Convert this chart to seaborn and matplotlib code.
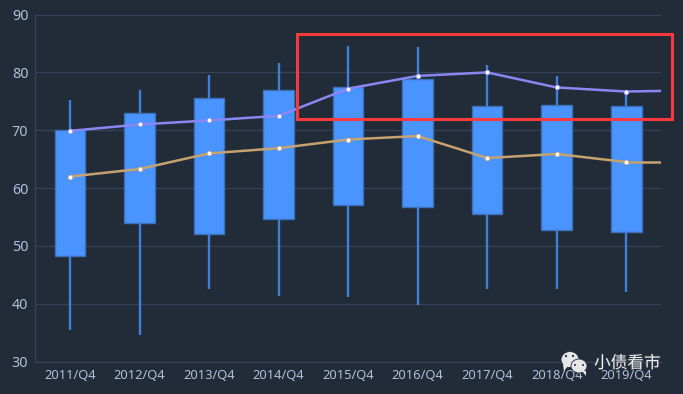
import matplotlib
matplotlib.use("Agg")
import matplotlib.pyplot as plt
import matplotlib.patheffects as pe
from matplotlib.patches import Rectangle, Ellipse, Polygon
import numpy as np
import pandas as pd
import seaborn as sns

quarters = ["2011/Q4", "2012/Q4", "2013/Q4", "2014/Q4", "2015/Q4", "2016/Q4", "2017/Q4", "2018/Q4", "2019/Q4"]
low = [35.5, 34.6, 42.5, 41.4, 41.2, 39.8, 42.5, 42.6, 42.0]
q1 = [48.2, 53.9, 52.1, 54.6, 57.0, 56.8, 55.5, 52.7, 52.4]
q3 = [70.1, 73.0, 75.6, 76.9, 77.4, 78.9, 74.2, 74.3, 74.2]
high = [75.2, 77.0, 79.5, 81.7, 84.6, 84.4, 81.3, 79.3, 76.9]
purple = [69.9, 71.0, 71.7, 72.5, 77.2, 79.4, 80.0, 77.4, 76.7]
tan = [62.0, 63.3, 66.0, 66.9, 68.4, 69.0, 65.2, 65.9, 64.5]
# both lines run on to the right edge of the plot
purple_end = 76.8
tan_end = 64.5
yticks = [30, 40, 50, 60, 70, 80, 90]

BG = "#222c38"
GRID = "#35425a"
TEXT = "#b0c0dc"
W, H = 683, 394

sns.set_style("dark")
plt.rcParams["font.family"] = ["Noto Sans", "Noto Sans CJK SC", "DejaVu Sans"]

# five numbers per year, the box stats come straight back out of them
rows = []
for q, a, b, m, c, d in zip(quarters, low, q1, tan, q3, high):
    for v in (a, b, m, c, d):
        rows.append({"quarter": q, "value": v})
box_df = pd.DataFrame(rows)

fig = plt.figure(figsize=(W / 100, H / 100), dpi=100, facecolor=BG)
ax = fig.add_axes([35.3 / W, 1 - 361.6 / H, (661 - 35.3) / W, (361.6 - 14.6) / H], facecolor=BG)

ax.set_axisbelow(True)
ax.yaxis.grid(True, color=GRID, lw=0.9)
ax.xaxis.grid(False)

sns.boxplot(data=box_df, x="quarter", y="value", order=quarters, ax=ax, width=0.44, gap=0,
            whis=(0, 100), showcaps=False, fliersize=0,
            boxprops={"facecolor": "#4a94ff", "edgecolor": "#3a70b8", "linewidth": 1.0},
            medianprops={"color": "#4a94ff", "linewidth": 0},
            whiskerprops={"color": "#3f7fd8", "linewidth": 1.7})

line_x = np.arange(len(quarters))
for vals, end, color in [(purple, purple_end, "#8a87f2"), (tan, tan_end, "#c6a26f")]:
    sns.lineplot(x=line_x, y=vals, ax=ax, color=color, lw=1.8, marker="o", markersize=3.4,
                 markerfacecolor="white", markeredgecolor=color, markeredgewidth=0.5,
                 errorbar=None, zorder=5)
    ax.plot([line_x[-1], len(quarters) - 0.5], [vals[-1], end], color=color, lw=1.8, zorder=4)

ax.set_xlim(-0.5, len(quarters) - 0.5)
ax.set_ylim(30, 90)
ax.set_yticks(yticks)
ax.set_xlabel("")
ax.set_ylabel("")
ax.tick_params(axis="x", length=0, labelsize=9.3, labelcolor=TEXT, pad=5)
ax.tick_params(axis="y", length=0, labelsize=10.3, labelcolor=TEXT, pad=5)
for side in ["top", "right"]:
    ax.spines[side].set_visible(False)
for side in ["left", "bottom"]:
    ax.spines[side].set_color(GRID)
    ax.spines[side].set_linewidth(0.9)

# red highlight box, figure coordinates in pixels
tr = matplotlib.transforms.Affine2D().scale(1 / W, -1 / H).translate(0, 1) + fig.transFigure
fig.add_artist(Rectangle((297, 34), 375, 85, fill=False, ec="#f83a3d", lw=2.2, transform=tr, zorder=10))

# watermark
for cx, cy, w, h in [(570, 359.5, 18, 16), (579, 366, 16, 14)]:
    fig.add_artist(Ellipse((cx, cy), w, h, fc="#e6e6e6", ec=BG, lw=0.6, transform=tr, zorder=11))
fig.add_artist(Polygon([(563, 364), (568, 366), (564, 371)], fc="#e6e6e6", ec="none", transform=tr, zorder=11))
fig.add_artist(Polygon([(582, 371), (586, 371), (586, 376)], fc="#e6e6e6", ec="none", transform=tr, zorder=11))
for ex, ey, s in [(566, 356, 1.1), (573, 356, 1.1), (575, 365, 1.0), (583, 365, 1.0)]:
    fig.add_artist(Ellipse((ex, ey), s * 2, s * 2, fc=BG, ec="none", transform=tr, zorder=12))
fig.text(594 / W, 1 - 364 / H, "小债看市", color="#f2f2f2", fontsize=12, va="center", ha="left", zorder=12,
         path_effects=[pe.withStroke(linewidth=1.0, foreground="#333b46")])

fig.savefig("out.png", dpi=100, facecolor=BG)
